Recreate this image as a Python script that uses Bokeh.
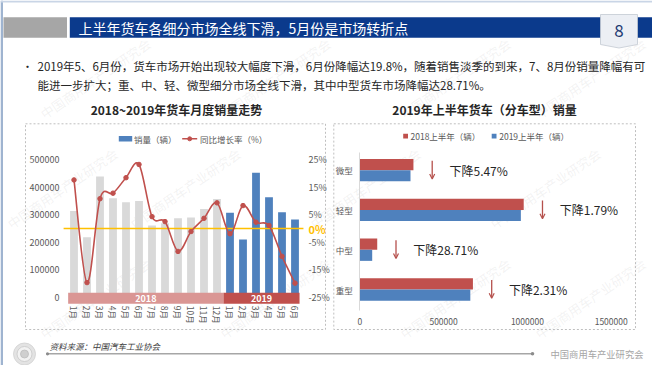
import math
from bokeh.plotting import figure
from bokeh.models import (Range1d, LinearAxis, FixedTicker, PrintfTickFormatter,
                          ColumnDataSource, Arrow, OpenHead)
from bokeh.transform import dodge
from bokeh.core.properties import value
from bokeh.embed import file_html
from bokeh.resources import INLINE

FONT = "Noto Sans CJK SC"

# ---------------- data ----------------
slide_title = "上半年货车各细分市场全线下滑，5月份是市场转折点"
page_number = "8"
bullet_lines = [
    "2019年5、6月份，货车市场开始出现较大幅度下滑，6月份降幅达19.8%，随着销售淡季的到来，7、8月份销量降幅有可",
    "能进一步扩大；重、中、轻、微型细分市场全线下滑，其中中型货车市场降幅达28.71%。",
]

left_title = "2018~2019年货车月度销量走势"
months = ["1月", "2月", "3月", "4月", "5月", "6月", "7月", "8月", "9月", "10月", "11月", "12月",
          "1月", "2月", "3月", "4月", "5月", "6月"]
years = ["2018"] * 12 + ["2019"] * 6
sales = [313000, 218000, 438000, 360000, 345000, 350000, 261000, 269000, 287000, 290000,
         321000, 357000, 307000, 210000, 452000, 363000, 309000, 283000]
growth = [17.6, -19.6, 10.8, 12.8, 18.4, 23.2, 4.3, 2.5, -8.3, -1.1, 3.7, 9.3,
          -1.9, 8.3, 2.3, 1.1, -10.1, -19.8]
sales_name = "销量（辆）"
growth_name = "同比增长率（%）"
sales_ticks = [0, 100000, 200000, 300000, 400000, 500000]
growth_ticks = [-25, -15, -5, 5, 15, 25]

right_title = "2019年上半年货车（分车型）销量"
truck_types = ["微型", "轻型", "中型", "重型"]
h1_2018 = [320000, 978000, 104000, 675000]
h1_2019 = [302500, 961000, 74000, 659400]
drop_text = ["下降5.47%", "下降1.79%", "下降28.71%", "下降2.31%"]
name_2018 = "2018上半年（辆）"
name_2019 = "2019上半年（辆）"
volume_ticks = [0, 500000, 1000000, 1500000]

source_note = "资料来源：中国汽车工业协会"
org_name = "中国商用车产业研究会"

# ---------------- layout helpers (page pixel coordinates) ----------------
W, H = 652, 365
PX0, PX1, PY0, PY1 = 0, W, 0, H


def xspan(v0, v1, p0, p1):
    k = (v1 - v0) / (p1 - p0)
    return Range1d(start=v0 + (PX0 - p0) * k, end=v0 + (PX1 - p0) * k)


def yspan(v0, v1, p0, p1):
    k = (v1 - v0) / (p1 - p0)
    return Range1d(start=v0 + (PY1 - p0) * k, end=v0 + (PY0 - p0) * k)


def at(v0, v1, p0, p1):
    return lambda px: v0 + (px - p0) * (v1 - v0) / (p1 - p0)


n = len(months)
LX = (-0.5, n - 0.5, 67, 301)
LY = (0, 500000, 297, 159)
LP = (-25, 25, 297, 159)
RX = (0, 1500000, 359.3, 610.7)
RY = (0, len(truck_types) - 1, 169.7, 289)
ly_at, ry_at, rx_at = at(*LY), at(*RY), at(*RX)

p = figure(width=W, height=H, x_range=Range1d(PX0, PX1), y_range=Range1d(PY1, PY0),
           x_axis_type=None, y_axis_type=None, toolbar_location=None, output_backend="svg",
           min_border=0, outline_line_color=None, title=None,
           background_fill_color="white", border_fill_color="white")
p.extra_x_ranges = {"lx": xspan(*LX), "rx": xspan(*RX)}
p.extra_y_ranges = {"ly": yspan(*LY), "lp": yspan(*LP), "ry": yspan(*RY)}


def txt(x, y, s, size, color="#262626", align="left", bold=False, italic=False, **kw):
    style = "bold" if bold else ("italic" if italic else "normal")
    p.text(x=[x], y=[y], text=[s], text_font=value(FONT), text_font_size=size,
           text_color=color, text_align=align, text_baseline="middle",
           text_font_style=style, **kw)


# ---------------- slide frame ----------------
p.quad(left=[0], right=[2.5], top=[0], bottom=[H], fill_color="#9FB4D0", line_color=None)
p.quad(left=[0], right=[W], top=[0], bottom=[2], fill_color="#C9D5E6", line_color=None)

# ---------------- watermarks ----------------
for wy, xs in ((78, (95, 275, 455, 590)), (188, (62, 185, 365, 545)), (298, (95, 275, 455, 590))):
    for wx in xs:
        p.text(x=[wx], y=[wy], text=[org_name], angle=0.6, text_font=value(FONT),
               text_font_size="13px", text_color="#B0B0B0", text_alpha=0.16,
               text_align="center", text_baseline="middle")

# ---------------- header ----------------
p.quad(left=[3], right=[66.5], top=[16.7], bottom=[37.3], fill_color="#A6A6A6", line_color=None)
p.quad(left=[69.3], right=[655], top=[16.7], bottom=[37.3], fill_color="#0B3A8C", line_color=None)
p.patch(x=[600, 637, 637, 618.5, 600], y=[14, 14, 44, 47.5, 44], fill_color="#ECEFF4",
        line_color="#C3C9D2", line_width=0.8)
txt(78, 27.3, slide_title, "14px", color="white")
txt(618.5, 30, page_number, "17px", color="#1F3B73", align="center")
txt(27, 65, "•", "11px", color="#262626", align="center")
txt(37, 65, bullet_lines[0], "11.5px", color="#262626")
txt(37, 84, bullet_lines[1], "11.5px", color="#262626")

# ---------------- chart boxes and titles ----------------
p.quad(left=[25, 333.3], right=[325, 635], top=[123.3, 123.3], bottom=[329, 329],
       fill_color=None, line_color="#BFBFBF", line_dash="2 2", line_width=1)
txt(176, 109, left_title, "12px", bold=True, align="center")
txt(484, 109, right_title, "12px", bold=True, align="center")

# ---------------- left chart ----------------
bar_colors = ["#D9D9D9" if y == years[0] else "#4F81BD" for y in years]
lsrc = ColumnDataSource(dict(i=list(range(n)), sales=sales, growth=growth, color=bar_colors))
p.vbar(x="i", top="sales", bottom=0, width=0.6, fill_color="color", line_color=None,
       source=lsrc, x_range_name="lx", y_range_name="ly")

# year band along the category axis
year_names = sorted(set(years))
counts = [years.count(y) for y in year_names]
lefts, rights = [], []
for k, c in enumerate(counts):
    lefts.append(-0.45 if k == 0 else rights[-1])
    rights.append(sum(counts[:k + 1]) - 0.5 if k < len(counts) - 1 else n - 0.65)
p.quad(left=lefts, right=rights, bottom=[ly_at(303.3)] * len(year_names),
       top=[ly_at(292.3)] * len(year_names), fill_color=["#DA9694", "#C0504D"],
       line_color=None, x_range_name="lx", y_range_name="ly")
p.text(x=[(a + b) / 2 for a, b in zip(lefts, rights)], y=[ly_at(297.8)] * len(year_names),
       text=year_names, text_font=value(FONT), text_font_size="9px", text_font_style="bold",
       text_color="white", text_align="center", text_baseline="middle",
       x_range_name="lx", y_range_name="ly")

# zero-growth reference line
p.segment(x0=[-0.8], y0=[0], x1=[n - 0.35], y1=[0], line_color="#FFC000", line_width=1.6,
          x_range_name="lx", y_range_name="lp")
p.text(x=[n - 0.5], y=[0], text=["0%"], x_offset=7, text_font=value(FONT),
       text_font_size="11px", text_font_style="bold", text_color="#FFC000",
       text_baseline="middle", x_range_name="lx", y_range_name="lp")


def catmull(xs, ys):
    m = len(xs)
    d = {k: [] for k in ("x0", "y0", "x1", "y1", "cx0", "cy0", "cx1", "cy1")}
    for k in range(m - 1):
        a = k - 1 if k > 0 else k
        b = k + 2 if k + 2 < m else k + 1
        d["x0"].append(xs[k]); d["y0"].append(ys[k])
        d["x1"].append(xs[k + 1]); d["y1"].append(ys[k + 1])
        d["cx0"].append(xs[k] + (xs[k + 1] - xs[a]) / 6)
        d["cy0"].append(ys[k] + (ys[k + 1] - ys[a]) / 6)
        d["cx1"].append(xs[k + 1] - (xs[b] - xs[k]) / 6)
        d["cy1"].append(ys[k + 1] - (ys[b] - ys[k]) / 6)
    return d


p.bezier(source=ColumnDataSource(catmull(list(range(n)), growth)), x0="x0", y0="y0",
         x1="x1", y1="y1", cx0="cx0", cy0="cy0", cx1="cx1", cy1="cy1",
         line_color="#C0504D", line_width=1.6, x_range_name="lx", y_range_name="lp")
p.scatter(x="i", y="growth", source=lsrc, marker="circle", size=4.5, fill_color="#C0504D",
          line_color="#C0504D", x_range_name="lx", y_range_name="lp")

axis_style = dict(axis_line_color=None, major_tick_line_color=None, minor_tick_line_color=None,
                  major_tick_out=0, major_tick_in=0, minor_tick_out=0, minor_tick_in=0,
                  major_label_text_font=FONT, major_label_text_color="#595959")
p.add_layout(LinearAxis(x_range_name="lx", y_range_name="ly", fixed_location=-0.5,
                        ticker=FixedTicker(ticks=sales_ticks),
                        formatter=PrintfTickFormatter(format="%d"),
                        major_label_standoff=8, major_label_text_font_size="9px",
                        **axis_style), "left")
p.add_layout(LinearAxis(x_range_name="lx", y_range_name="lp", fixed_location=n - 0.5,
                        ticker=FixedTicker(ticks=growth_ticks),
                        formatter=PrintfTickFormatter(format="%d%%"),
                        major_label_standoff=7, major_label_text_font_size="9px",
                        **axis_style), "right")
p.add_layout(LinearAxis(x_range_name="lx", y_range_name="ly", fixed_location=ly_at(303.3),
                        ticker=FixedTicker(ticks=list(range(n))),
                        major_label_overrides={i: m for i, m in enumerate(months)},
                        major_label_orientation="vertical", major_label_standoff=2,
                        major_label_text_font_size="8.5px", **axis_style), "below")

# left legend
p.quad(left=[118.3], right=[131.7], top=[135.6], bottom=[141], fill_color="#4F81BD", line_color=None)
txt(133.5, 138.3, sales_name, "8.5px", color="#595959")
p.segment(x0=[181.7], y0=[138.3], x1=[196.7], y1=[138.3], line_color="#C0504D", line_width=1.5)
p.scatter(x=[189.2], y=[138.3], marker="circle", size=4, color="#C0504D")
txt(199.5, 138.3, growth_name, "8.5px", color="#595959")

# ---------------- right chart ----------------
rsrc = ColumnDataSource(dict(idx=list(range(len(truck_types))), v18=h1_2018, v19=h1_2019,
                             drop=drop_text,
                             ax=[v + 112000 for v in h1_2018],
                             tx=[v + 215000 for v in h1_2018],
                             ay0=[i - 0.24 for i in range(len(truck_types))],
                             ay1=[i + 0.22 for i in range(len(truck_types))]))
p.hbar(y=dodge("idx", -0.14), left=0, right="v18", height=0.28, fill_color="#C0504D",
       line_color=None, source=rsrc, x_range_name="rx", y_range_name="ry")
p.hbar(y=dodge("idx", 0.14), left=0, right="v19", height=0.28, fill_color="#4F81BD",
       line_color=None, source=rsrc, x_range_name="rx", y_range_name="ry")
p.add_layout(Arrow(end=OpenHead(size=5, line_color="#B5504C", line_width=1.2),
                   x_start="ax", y_start="ay0", x_end="ax", y_end="ay1", source=rsrc,
                   line_color="#B5504C", line_width=1.3, x_range_name="rx", y_range_name="ry"))
p.text(x="tx", y="idx", text="drop", source=rsrc, text_font=value(FONT), text_font_size="12px",
       text_color="#262626", text_baseline="middle", x_range_name="rx", y_range_name="ry")

p.add_layout(LinearAxis(x_range_name="rx", y_range_name="ry", fixed_location=0,
                        ticker=FixedTicker(ticks=list(range(len(truck_types)))),
                        major_label_overrides={i: t for i, t in enumerate(truck_types)},
                        bounds=(ry_at(152), ry_at(310)), axis_line_color="#D9D9D9",
                        major_tick_line_color=None, minor_tick_line_color=None,
                        major_tick_out=0, major_tick_in=0,
                        major_label_standoff=7, major_label_text_font=FONT,
                        major_label_text_font_size="8.5px", major_label_text_color="#595959"),
             "left")
p.add_layout(LinearAxis(x_range_name="rx", y_range_name="ry", fixed_location=ry_at(316),
                        ticker=FixedTicker(ticks=volume_ticks),
                        formatter=PrintfTickFormatter(format="%d"),
                        major_label_standoff=1, major_label_text_font_size="8.5px",
                        **axis_style), "below")

# right legend
p.quad(left=[402.7], right=[407.5], top=[133.3], bottom=[138.1], fill_color="#C0504D", line_color=None)
txt(410, 135.7, name_2018, "8.5px", color="#595959")
p.quad(left=[491.2], right=[496], top=[133.3], bottom=[138.1], fill_color="#4F81BD", line_color=None)
txt(498.7, 135.7, name_2019, "8.5px", color="#595959")

# ---------------- footer ----------------
p.circle(x=[24, 24, 24], y=[353.5, 353.5, 353.5], radius=[11, 7.5, 4],
         fill_color=["#E3E3E3", "#F2F2F2", "#CFCFCF"], line_color=["#D0D0D0", "#C8C8C8", "#BDBDBD"],
         line_width=0.8)
txt(49, 345, source_note, "8.5px", color="#404040", italic=True)
p.segment(x0=[46.7], y0=[353.3], x1=[532], y1=[353.3], line_color="#A6A6A6", line_width=1.4)
p.circle(x=[47, 532], y=[353.3, 353.3], radius=[1.6, 1.8], fill_color="#8C8C8C", line_color=None)
txt(550, 353.3, org_name, "9.3px", color="#A6A6A6")

open("out.html", "w").write(file_html(p, INLINE))
